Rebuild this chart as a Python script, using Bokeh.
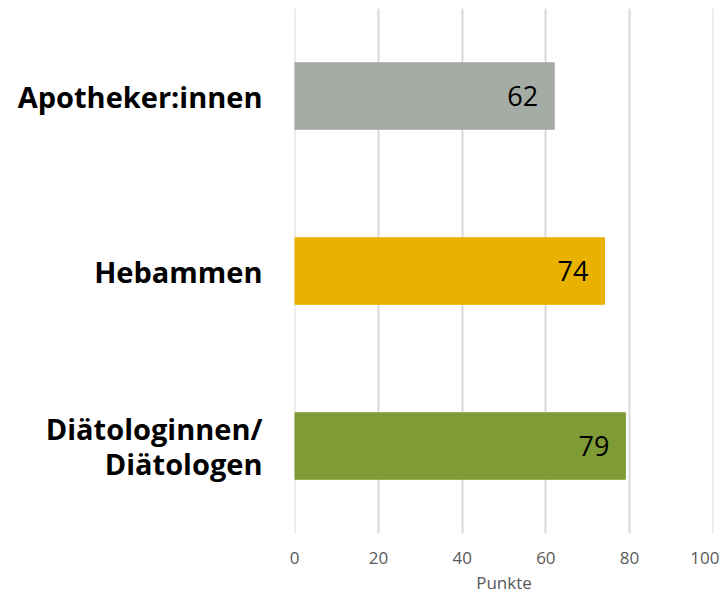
from bokeh.plotting import figure
from bokeh.models import ColumnDataSource, FixedTicker, LabelSet
from bokeh.embed import file_html
from bokeh.resources import INLINE
from bokeh.core.properties import value

categories = ["Apotheker:innen", "Hebammen", "Diätologinnen/\nDiätologen"]
values = [62, 74, 79]
colors = ["#A5ABA5", "#EAB200", "#7F9B35"]
x_ticks = [0, 20, 40, 60, 80, 100]

src = ColumnDataSource(dict(cat=categories, val=values, color=colors,
                            lab=[str(v) for v in values]))

p = figure(width=719, height=596, y_range=list(reversed(categories)),
           x_range=(-0.05, 100.05), output_backend="svg", toolbar_location=None,
           min_border_left=294, min_border_right=6, min_border_top=8,
           min_border_bottom=50)
p.outline_line_color = None
p.y_range.range_padding = 0

p.hbar(y="cat", right="val", left=0, height=0.38, color="color", source=src)

labels = LabelSet(x="val", y="cat", text="lab", source=src, x_offset=-16,
                  text_align="right", text_baseline="middle",
                  text_font=value("Open Sans"), text_font_size="27px",
                  text_color="#000000")
p.add_layout(labels)

p.xaxis.ticker = FixedTicker(ticks=x_ticks)
p.xaxis.axis_line_color = None
p.xaxis.major_tick_line_color = None
p.xaxis.minor_tick_line_color = None
p.xaxis.major_label_text_font = "Open Sans"
p.xaxis.major_label_text_font_size = "17px"
p.xaxis.major_label_text_color = "#595959"
p.xaxis.major_label_standoff = 12
p.xaxis.axis_label = "Punkte"
p.xaxis.axis_label_text_font = "Open Sans"
p.xaxis.axis_label_text_font_size = "17px"
p.xaxis.axis_label_text_font_style = "normal"
p.xaxis.axis_label_text_color = "#595959"
p.xaxis.axis_label_standoff = 4

p.yaxis.axis_line_color = None
p.yaxis.major_tick_line_color = None
p.yaxis.minor_tick_line_color = None
p.yaxis.major_label_text_font = "Open Sans"
p.yaxis.major_label_text_font_size = "29px"
p.yaxis.major_label_text_font_style = "bold"
p.yaxis.major_label_text_color = "#000000"
p.yaxis.major_label_text_line_height = 0.88
p.yaxis.major_label_standoff = 26

p.xgrid.grid_line_color = "#D9D9D9"
p.xgrid.grid_line_width = 2
p.ygrid.grid_line_color = None

open("out.html", "w").write(file_html(p, INLINE))
